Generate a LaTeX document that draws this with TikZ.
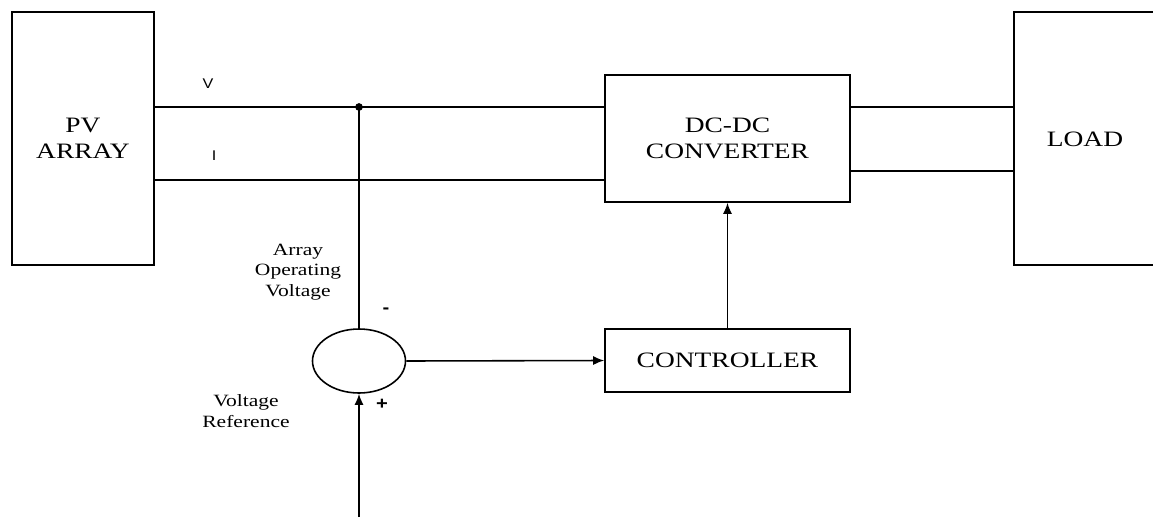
\documentclass[tikz,border=0pt]{standalone}
\usepackage{fontspec}
\setmainfont[FakeStretch=1.25]{Liberation Serif}
\newfontfamily\labelsans[FakeStretch=1.15]{Liberation Sans}
\usetikzlibrary{shapes.geometric, arrows.meta}

\tikzset{
  block/.style={draw, line width=0.9pt, rectangle, align=center, inner sep=0pt,
    font=\fontsize{12.5}{15}\selectfont},
  wire/.style={line width=0.9pt},
  sig/.style={line width=0.9pt, -{Latex[length=2.2mm, width=1.8mm]}},
  note/.style={align=center, font=\fontsize{9.8}{11.5}\selectfont},
  tag/.style={font=\labelsans\fontsize{8}{10}\selectfont}
}

\begin{document}
\begin{tikzpicture}[x=0.2mm, y=-0.2mm]
        \path[use as bounding box, clip] (0,0) rectangle (1153,517);

        % blocks
        \node[block, minimum width=28.4mm, minimum height=50.6mm] (pv) at (83,138.5) {PV\\ARRAY};
        \node[block, minimum width=49mm, minimum height=25.4mm] (conv) at (727.5,138.5) {DC-DC\\CONVERTER};
        \node[block, minimum width=31.2mm, minimum height=50.6mm] (load) at (1092,138.5) {};
        \node[font=\fontsize{12.5}{15}\selectfont] (loadtxt) at (1085,139) {LOAD};
        \node[block, minimum width=49mm, minimum height=12.6mm] (ctrl) at (727.5,360.5) {CONTROLLER};
        \node[draw, line width=0.9pt, ellipse, minimum width=18.6mm, minimum height=12.8mm, inner sep=0pt] (sum) at (359,361) {};

        \coordinate (vtap) at (359,107);
        \coordinate (itap) at (359,180);
        \coordinate (iout) at (930,171);
        \coordinate (refin) at (359,517);

        % bus lines
        \draw[wire] (pv.east |- vtap) -- (vtap) -- (conv.west |- vtap);
        \draw[wire] (pv.east |- itap) -- (conv.west |- itap);
        \draw[wire] (conv.east |- vtap) -- (load.west |- vtap);
        \draw[wire] (conv.east |- iout) -- (load.west |- iout);
        \fill (vtap) circle (2.2pt);

        % feedback loop
        \draw[wire] (vtap) -- (sum.north);
        \draw[sig] (refin) -- (sum.south);
        \draw[sig] (sum.east) -- (ctrl.west);
        \draw[sig] (ctrl.north) -- (conv.south);

        % labels
        \node[tag] (vlab) at (208,84) {V};
        \node[tag] (ilab) at (214,156) {I};
        \node[note] (oplab) at (298,272) {Array\\Operating\\Voltage};
        \node[note] (reflab) at (246,411) {Voltage\\Reference};
        \node[tag, font=\labelsans\bfseries\fontsize{10}{12}\selectfont] (minus) at (386,311) {-};
        \node[tag, font=\labelsans\bfseries\fontsize{10}{12}\selectfont] (plus) at (382,404) {+};
    \end{tikzpicture}
\end{document}
